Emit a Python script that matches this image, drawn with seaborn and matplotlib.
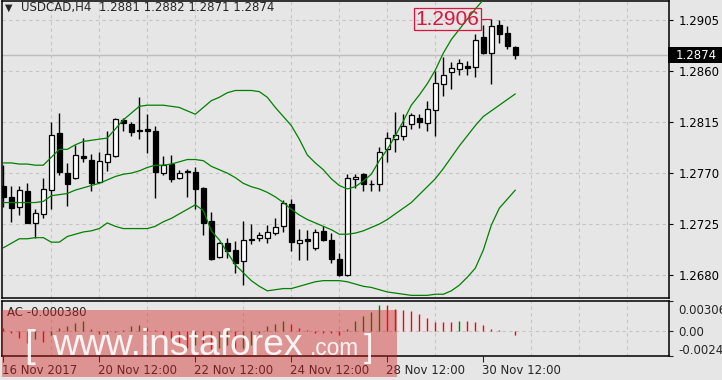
import numpy as np
import pandas as pd
import matplotlib
matplotlib.use("Agg")
import matplotlib.pyplot as plt
import matplotlib.transforms as mtransforms
from matplotlib.patches import Rectangle
from matplotlib import font_manager as fm
import seaborn as sns

# ---------------- data ----------------
symbol_title = "USDCAD,H4  1.2881 1.2882 1.2871 1.2874"
opens = [1.2759, 1.2749, 1.2740, 1.2754, 1.2726, 1.2734, 1.2755, 1.2805, 1.2770, 1.2766,
         1.2785, 1.2782, 1.2762, 1.2780, 1.2785, 1.2817, 1.2813, 1.2808, 1.2809, 1.2807,
         1.2770, 1.2778, 1.2766, 1.2772, 1.2771, 1.2757, 1.2728, 1.2696, 1.2708, 1.2702,
         1.2692, 1.2711, 1.2713, 1.2713, 1.2717, 1.2723, 1.2743, 1.2708, 1.2712, 1.2704,
         1.2719, 1.2711, 1.2694, 1.2680, 1.2765, 1.2769, 1.2760, 1.2760, 1.2791, 1.2800,
         1.2803, 1.2813, 1.2819, 1.2814, 1.2826, 1.2849, 1.2859, 1.2862, 1.2865, 1.2864,
         1.2890, 1.2876, 1.2901, 1.2894, 1.2881]
highs = [1.2777, 1.2759, 1.2759, 1.2761, 1.2738, 1.2766, 1.2815, 1.2823, 1.2779, 1.2795,
         1.2801, 1.2787, 1.2789, 1.2807, 1.2819, 1.2819, 1.2815, 1.2837, 1.2822, 1.2812,
         1.2785, 1.2786, 1.2773, 1.2774, 1.2775, 1.2758, 1.2736, 1.2709, 1.2713, 1.2710,
         1.2728, 1.2725, 1.2718, 1.2724, 1.2730, 1.2746, 1.2747, 1.2721, 1.2720, 1.2721,
         1.2723, 1.2717, 1.2699, 1.2769, 1.2769, 1.2770, 1.2764, 1.2793, 1.2806, 1.2824,
         1.2822, 1.2823, 1.2822, 1.2834, 1.2860, 1.2873, 1.2868, 1.2871, 1.2869, 1.2893,
         1.2901, 1.2906, 1.2905, 1.2900, 1.2882]
lows = [1.2740, 1.2727, 1.2733, 1.2726, 1.2713, 1.2730, 1.2738, 1.2768, 1.2741, 1.2765,
        1.2780, 1.2754, 1.2761, 1.2772, 1.2784, 1.2807, 1.2803, 1.2800, 1.2788, 1.2748,
        1.2768, 1.2762, 1.2765, 1.2749, 1.2738, 1.2715, 1.2693, 1.2695, 1.2695, 1.2682,
        1.2671, 1.2707, 1.2710, 1.2708, 1.2715, 1.2718, 1.2701, 1.2693, 1.2693, 1.2702,
        1.2710, 1.2691, 1.2679, 1.2679, 1.2757, 1.2754, 1.2754, 1.2754, 1.2780, 1.2789,
        1.2799, 1.2809, 1.2810, 1.2807, 1.2803, 1.2838, 1.2844, 1.2857, 1.2857, 1.2855,
        1.2875, 1.2849, 1.2885, 1.2880, 1.2871]
closes = [1.2749, 1.2739, 1.2755, 1.2726, 1.2735, 1.2756, 1.2804, 1.2771, 1.2760, 1.2786,
          1.2783, 1.2761, 1.2781, 1.2787, 1.2818, 1.2814, 1.2806, 1.2807, 1.2807, 1.2771,
          1.2777, 1.2765, 1.2770, 1.2771, 1.2756, 1.2726, 1.2694, 1.2708, 1.2701, 1.2691,
          1.2711, 1.2712, 1.2715, 1.2718, 1.2722, 1.2744, 1.2709, 1.2711, 1.2710, 1.2718,
          1.2711, 1.2694, 1.2680, 1.2766, 1.2767, 1.2760, 1.2760, 1.2789, 1.2801, 1.2804,
          1.2812, 1.2821, 1.2815, 1.2827, 1.2850, 1.2857, 1.2863, 1.2867, 1.2863, 1.2888,
          1.2876, 1.2900, 1.2893, 1.2882, 1.2874]
bb_upper = [1.2779, 1.2779, 1.2778, 1.2778, 1.2777, 1.2777, 1.2784, 1.2791, 1.2791, 1.2795,
            1.2798, 1.2799, 1.2800, 1.2801, 1.2809, 1.2817, 1.2823, 1.2829, 1.2830, 1.2830,
            1.2830, 1.2829, 1.2828, 1.2825, 1.2822, 1.2828, 1.2834, 1.2837, 1.2841, 1.2843,
            1.2843, 1.2843, 1.2842, 1.2837, 1.2828, 1.2820, 1.2812, 1.2800, 1.2786, 1.2779,
            1.2773, 1.2765, 1.2759, 1.2756, 1.2758, 1.2763, 1.2769, 1.2781, 1.2791, 1.2803,
            1.2816, 1.2830, 1.2839, 1.2849, 1.2861, 1.2876, 1.2888, 1.2897, 1.2906, 1.2915,
            1.2923, 1.2926, 1.2927, 1.2927, 1.2926]
bb_middle = [1.2744, 1.2744, 1.2744, 1.2744, 1.2744, 1.2745, 1.2750, 1.2751, 1.2752, 1.2755,
             1.2757, 1.2759, 1.2761, 1.2764, 1.2767, 1.2769, 1.2770, 1.2772, 1.2775, 1.2777,
             1.2777, 1.2778, 1.2780, 1.2782, 1.2782, 1.2781, 1.2776, 1.2773, 1.2770, 1.2766,
             1.2761, 1.2758, 1.2756, 1.2753, 1.2749, 1.2744, 1.2738, 1.2733, 1.2729, 1.2726,
             1.2723, 1.2720, 1.2716, 1.2716, 1.2717, 1.2719, 1.2722, 1.2725, 1.2729, 1.2734,
             1.2739, 1.2744, 1.2751, 1.2758, 1.2765, 1.2774, 1.2784, 1.2794, 1.2803, 1.2812,
             1.2820, 1.2825, 1.2830, 1.2835, 1.2840]
bb_lower = [1.2704, 1.2708, 1.2712, 1.2712, 1.2713, 1.2713, 1.2709, 1.2709, 1.2714, 1.2716,
            1.2718, 1.2719, 1.2721, 1.2726, 1.2723, 1.2721, 1.2721, 1.2721, 1.2721, 1.2723,
            1.2727, 1.2730, 1.2734, 1.2738, 1.2742, 1.2737, 1.2719, 1.2711, 1.2700, 1.2689,
            1.2682, 1.2675, 1.2670, 1.2666, 1.2667, 1.2668, 1.2668, 1.2670, 1.2672, 1.2674,
            1.2675, 1.2675, 1.2675, 1.2674, 1.2672, 1.2670, 1.2669, 1.2667, 1.2665, 1.2664,
            1.2663, 1.2662, 1.2662, 1.2662, 1.2663, 1.2663, 1.2666, 1.2671, 1.2678, 1.2686,
            1.2702, 1.2724, 1.2739, 1.2747, 1.2755]
ac_values = [0.00030, -0.00020, -0.00070, -0.00118, -0.00083, -0.00111, -0.00035, 0.00028, 0.00049, 0.00083,
             0.00097, 0.00021, -0.00028, -0.00014, -0.00007, 0.00007, 0.00049, 0.00062, 0.00035, 0.00007,
             -0.00035, -0.00069, -0.00132, -0.00167, -0.00139, -0.00153, -0.00180, -0.00167, -0.00139, -0.00174,
             -0.00167, -0.00139, -0.00021, 0.00049, 0.00076, 0.00104, 0.00076, 0.00028, 0.00007, -0.00021,
             -0.00021, -0.00021, -0.00035, 0.00021, 0.00097, 0.00153, 0.00187, 0.00264, 0.00264, 0.00222,
             0.00215, 0.00201, 0.00174, 0.00132, 0.00090, 0.00090, 0.00090, 0.00104, 0.00100, 0.00090,
             0.00062, 0.00021, 0.00007, 0.00000, -0.00038]
ac_label = "AC -0.000380"
price_ticks = [1.2680, 1.2725, 1.2770, 1.2815, 1.2860, 1.2905]
ac_ticks = [0.003065, 0.0, -0.00246]
ac_tick_labels = ["0.003065", "0.00", "-0.00246"]
time_tick_bars = [0, 12, 24, 36, 48, 60]
time_tick_labels = ["16 Nov 2017", "20 Nov 12:00", "22 Nov 12:00", "24 Nov 12:00",
                    "28 Nov 12:00", "30 Nov 12:00"]
high_marker = 1.2906
high_marker_bar = 61
last_price = 1.2874
wm_left, wm_site, wm_tld, wm_right = "[", "www.instaforex", ".com", "]"

# ---------------- style ----------------
sns.set_theme(style="white")
plt.rcParams["font.family"] = ["DejaVu Sans"]
BG = "#e6e6e6"
GRID = "#c4c4c4"
GREEN = "#008000"
RED = "#ff0000"
CRIMSON = "#dc143c"

n = len(opens)
df = pd.DataFrame({"bar": np.arange(n), "open": opens, "high": highs, "low": lows,
                   "close": closes, "upper": bb_upper, "middle": bb_middle,
                   "lower": bb_lower, "ac": ac_values})

W, H = 722, 380
fig = plt.figure(figsize=(W / 100, H / 100), dpi=100)
fig.patch.set_facecolor(BG)
L, R = 2.3, 669.0
ax = fig.add_axes([L / W, 1 - 298.3 / H, (R - L) / W, (298.3 - 0.5) / H])
ax2 = fig.add_axes([L / W, 1 - 355.7 / H, (R - L) / W, (355.7 - 300.5) / H])

xlo, xhi = -0.125, 83.21
for a in (ax, ax2):
    a.set_facecolor(BG)
    a.set_xlim(xlo, xhi)
    for s in a.spines.values():
        s.set_color("black")
        s.set_linewidth(1.1)
    a.set_xticks(np.arange(6, 84, 6), minor=True)
    a.grid(False)
    a.xaxis.grid(True, which="minor", color=GRID, linestyle=(0, (3, 3)), linewidth=0.8)
    a.set_axisbelow(True)

ax.set_ylim(1.26594, 1.29225)
ax.yaxis.tick_right()
ax.set_yticks(price_ticks)
ax.set_yticklabels([f"{v:.4f}" for v in price_ticks])
ax.yaxis.grid(True, color=GRID, linestyle=(0, (3, 3)), linewidth=0.8)
ax.tick_params(axis="y", which="major", direction="out", length=3, width=0.8, pad=4,
               labelsize=8.5, colors="black", right=True, left=False)
ax.tick_params(axis="x", which="both", bottom=False, labelbottom=False, length=0)

# current price line
ax.axhline(last_price, color="#bdbdbd", linewidth=1.0, zorder=0.5)

# candles
up = df["close"] >= df["open"]
ax.vlines(df["bar"], df["low"], df["high"], color="black", linewidth=1.0, zorder=2)
body_lo = np.minimum(df["open"], df["close"])
body_h = np.abs(df["close"] - df["open"])
ax.bar(df["bar"][up], body_h[up].clip(lower=0.000015), bottom=body_lo[up], width=0.62,
       color="white", edgecolor="black", linewidth=0.9, zorder=3)
ax.bar(df["bar"][~up], body_h[~up].clip(lower=0.000015), bottom=body_lo[~up], width=0.62,
       color="black", edgecolor="black", linewidth=0.9, zorder=3)

# Bollinger bands
for col in ["upper", "middle", "lower"]:
    sns.lineplot(data=df, x="bar", y=col, ax=ax, color=GREEN, linewidth=0.9, zorder=4)
ax.set_xlabel("")
ax.set_ylabel("")
ax.set_xlim(xlo, xhi)
ax.set_ylim(1.26594, 1.29225)

# high marker label
ax.plot([high_marker_bar - 1.28, high_marker_bar], [high_marker, high_marker],
        color=CRIMSON, linewidth=0.8, zorder=5)
ax.text(high_marker_bar - 1.45, high_marker, f"{high_marker:.4f}", ha="right", va="center",
        fontsize=15, color=CRIMSON, family="Liberation Sans", zorder=6,
        bbox=dict(boxstyle="square,pad=0.08", fc="none", ec=CRIMSON, lw=0.9))

# title
ax.text(0.004, 0.975, "\u25BC", transform=ax.transAxes, fontsize=7, va="center", ha="left")
ax.text(0.028, 0.975, symbol_title, transform=ax.transAxes, fontsize=8.5, va="center", ha="left")

# ---- AC panel ----
ax2.set_ylim(-0.00246, 0.003065)
ac_cols = [RED] + [GREEN if ac_values[i] > ac_values[i - 1] else RED for i in range(1, n)]
ax2.vlines(df["bar"], 0, df["ac"], colors=ac_cols, linewidth=1.0, zorder=3)
ax2.axhline(0, color=GRID, linestyle=(0, (3, 3)), linewidth=0.8, zorder=1)
ax2.yaxis.tick_right()
ax2.set_yticks(ac_ticks)
ax2.set_yticklabels(ac_tick_labels)
ax2.tick_params(axis="y", direction="out", length=3, width=0.8, pad=4, labelsize=8.5,
                right=True, left=False)
labs = ax2.get_yticklabels()
labs[0].set_transform(labs[0].get_transform() + mtransforms.ScaledTranslation(0, -9 / 100, fig.dpi_scale_trans))
labs[2].set_transform(labs[2].get_transform() + mtransforms.ScaledTranslation(0, 7 / 100, fig.dpi_scale_trans))
ax2.set_xticks(time_tick_bars)
ax2.set_xticklabels(time_tick_labels)
ax2.tick_params(axis="x", which="major", direction="out", length=4, width=0.8, pad=2,
                labelsize=8.5, bottom=True)
ax2.tick_params(axis="x", which="minor", length=0)
for t in ax2.get_xticklabels():
    t.set_horizontalalignment("left")
    t.set_transform(t.get_transform() + mtransforms.ScaledTranslation(-1.5 / 100, 0, fig.dpi_scale_trans))
ax2.text(0.007, 0.78, ac_label, transform=ax2.transAxes, fontsize=8.5, va="center", ha="left")

# current price box on right axis
fig.canvas.draw()
ypix = ax.transData.transform((0, last_price))[1]
fig.patches.append(Rectangle((668 / W, (ypix - 8) / H), 56 / W, 16 / H, transform=fig.transFigure,
                             facecolor="black", edgecolor="none", zorder=10))
fig.text(676 / W, ypix / H, f"{last_price:.4f}", color="white", fontsize=8.5, va="center",
         ha="left", zorder=11)

# watermark
try:
    fm.findfont(fm.FontProperties(family="Liberation Sans Narrow"), fallback_to_default=False)
    wm_family, wm_k = "Liberation Sans Narrow", 1 / 0.82
except Exception:
    wm_family, wm_k = "Liberation Sans", 1.0
fig.patches.append(Rectangle((2 / W, 3 / H), 395 / W, 67 / H, transform=fig.transFigure,
                             facecolor="#d42020", alpha=0.42, edgecolor="none", zorder=20))
base = (H - 355) / H
wm_kw = dict(color="white", alpha=0.9, family=wm_family, va="baseline", ha="left", zorder=21)
fig.text(24 / W, (H - 357) / H, wm_left, fontsize=28, **wm_kw)
fig.text(52 / W, base, wm_site, fontsize=26.8 * wm_k, **wm_kw)
fig.text(310 / W, base, wm_tld, fontsize=16.3 * wm_k, **wm_kw)
fig.text(364 / W, (H - 357) / H, wm_right, fontsize=24, **wm_kw)

fig.savefig("out.png", dpi=100, facecolor=BG)
